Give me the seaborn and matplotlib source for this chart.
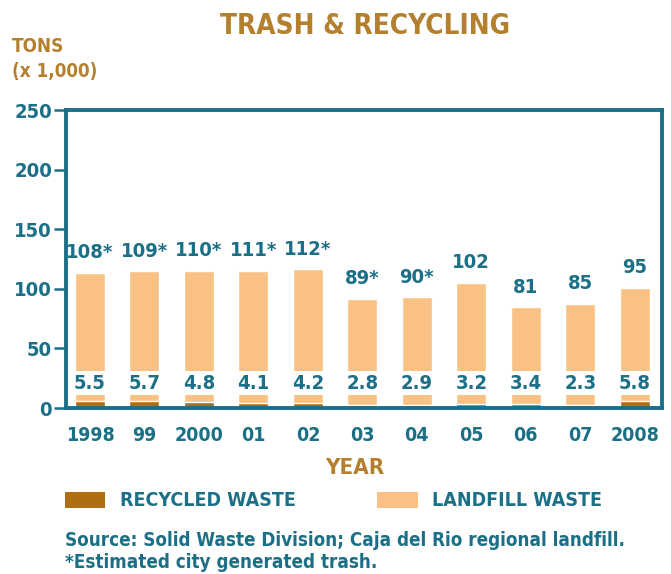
import matplotlib
matplotlib.use("Agg")
import matplotlib.pyplot as plt
import seaborn as sns
import pandas as pd
from matplotlib.patches import Rectangle
from matplotlib import font_manager

years = ["1998", "99", "2000", "01", "02", "03", "04", "05", "06", "07", "2008"]
landfill = [108, 109, 110, 111, 112, 89, 90, 102, 81, 85, 95]
recycled = [5.5, 5.7, 4.8, 4.1, 4.2, 2.8, 2.9, 3.2, 3.4, 2.3, 5.8]
landfill_labels = ["108*", "109*", "110*", "111*", "112*", "89*", "90*", "102", "81", "85", "95"]
recycled_labels = ["5.5", "5.7", "4.8", "4.1", "4.2", "2.8", "2.9", "3.2", "3.4", "2.3", "5.8"]
yticks = [0, 50, 100, 150, 200, 250]

TEAL = "#1b6f86"
BROWN = "#b5802e"
DARK = "#b06d12"
LIGHT = "#f9c184"

sns.set_theme(style="white")
plt.rcParams["font.family"] = ["DejaVu Sans", "Liberation Sans"]
plt.rcParams["font.weight"] = "bold"
plt.rcParams["font.stretch"] = "condensed"

W, H = 671, 574
fig = plt.figure(figsize=(W / 100, H / 100), dpi=100)
ax = fig.add_axes([66 / W, (H - 408) / H, (662 - 66) / W, (408 - 110) / H])

df = pd.DataFrame({"year": years, "landfill": landfill, "recycled": recycled})
df["total"] = df["landfill"] + df["recycled"]

sns.barplot(data=df, x="year", y="total", color=LIGHT, saturation=1, width=0.55, ax=ax, zorder=2)
sns.barplot(data=df, x="year", y="recycled", color=DARK, saturation=1, width=0.55, ax=ax, zorder=3)
# white band behind recycled-value labels
ax.axhspan(10.5, 31, color="white", zorder=4, lw=0)

for i, (t, ll, rl) in enumerate(zip(df["total"], landfill_labels, recycled_labels)):
    ax.text(i, t + 9, ll, ha="center", va="bottom", color=TEAL, fontsize=14.5,
            fontweight="bold", zorder=6)
    ax.text(i, 12.5, rl, ha="center", va="bottom", color=TEAL, fontsize=14.5,
            fontweight="bold", zorder=6)

ax.set_ylim(0, 250)
ax.set_xlim(-0.44, 10.5)
ax.set_yticks(yticks)
ax.set_yticklabels([str(v) for v in yticks])
ax.set_xlabel("")
ax.set_ylabel("")
for s in ax.spines.values():
    s.set_visible(True)
    s.set_color(TEAL)
    s.set_linewidth(2.8)
    s.set_zorder(7)
ax.tick_params(axis="y", left=True, length=9, width=1.8, color=TEAL, pad=1,
               labelsize=14.5, labelcolor=TEAL)
ax.tick_params(axis="x", bottom=False, length=0, pad=13, labelsize=14, labelcolor=TEAL)
for lab in ax.get_xticklabels() + ax.get_yticklabels():
    lab.set_fontweight("bold")

def ft(x, y, s, **kw):
    fig.text(x / W, 1 - y / H, s, **kw)

ft(365, 26, "TRASH & RECYCLING", ha="center", va="center", color=BROWN, fontsize=20, fontweight="bold")
ft(12, 46, "TONS", ha="left", va="center", color=BROWN, fontsize=13.5, fontweight="bold")
ft(12, 72, "(x 1,000)", ha="left", va="center", color=BROWN, fontsize=13.5, fontweight="bold")
ft(355, 468, "YEAR", ha="center", va="center", color=BROWN, fontsize=16, fontweight="bold")

fig.patches.append(Rectangle((65 / W, 1 - 508 / H), 40 / W, 16 / H, transform=fig.transFigure,
                             facecolor=DARK, edgecolor="none"))
ft(120, 500, "RECYCLED WASTE", ha="left", va="center", color=TEAL, fontsize=14, fontweight="bold")
fig.patches.append(Rectangle((377 / W, 1 - 508 / H), 41 / W, 16 / H, transform=fig.transFigure,
                             facecolor=LIGHT, edgecolor="none"))
ft(432, 500, "LANDFILL WASTE", ha="left", va="center", color=TEAL, fontsize=14, fontweight="bold")

ft(65, 541, "Source: Solid Waste Division; Caja del Rio regional landfill.", ha="left", va="center",
   color=TEAL, fontsize=13.5, fontweight="bold")
ft(65, 563, "*Estimated city generated trash.", ha="left", va="center",
   color=TEAL, fontsize=13.5, fontweight="bold")

fig.savefig("out.png", dpi=100)
